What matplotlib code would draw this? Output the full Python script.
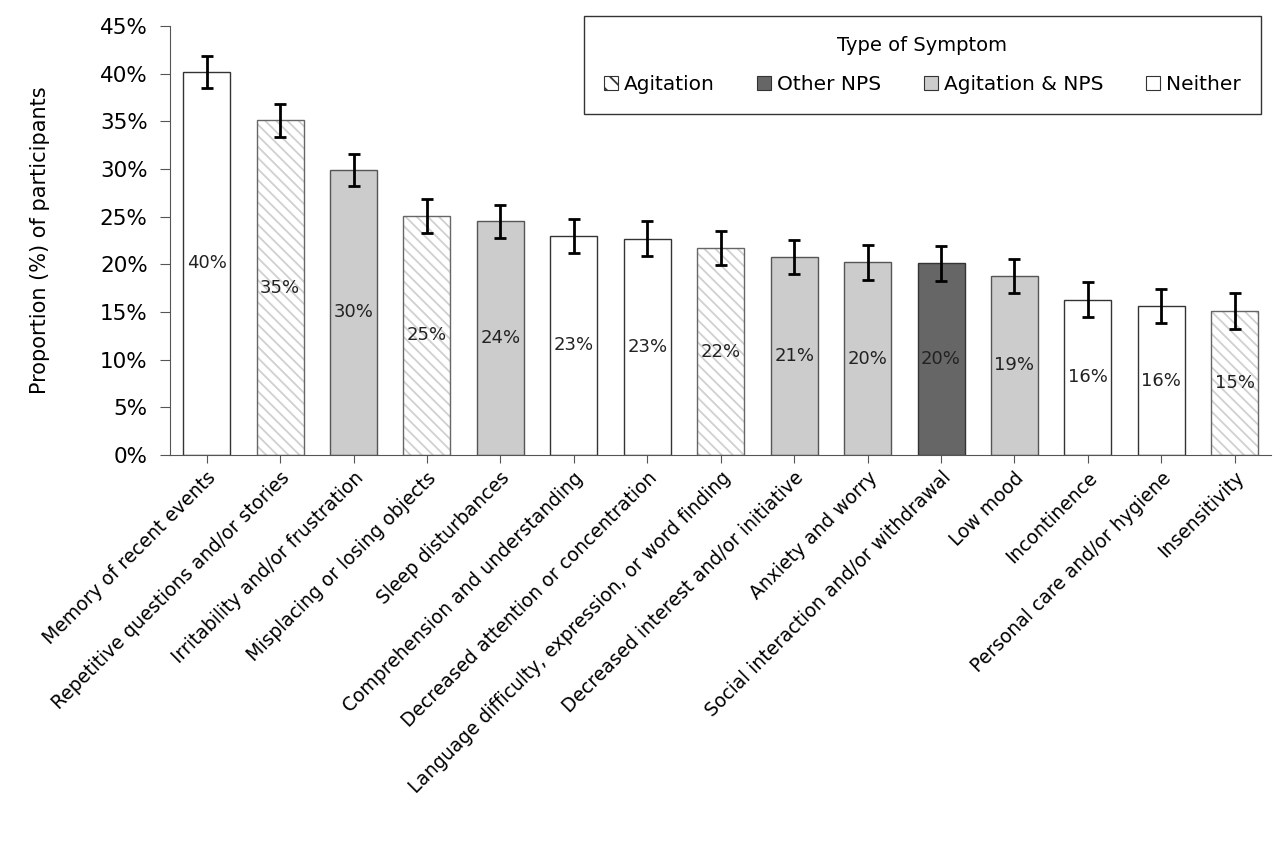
import matplotlib.pyplot as plt
from matplotlib.patches import Patch
from matplotlib.ticker import PercentFormatter

categories = ["Memory of recent events", "Repetitive questions and/or stories",
              "Irritability and/or frustration", "Misplacing or losing objects",
              "Sleep disturbances", "Comprehension and understanding",
              "Decreased attention or concentration",
              "Language difficulty, expression, or word finding",
              "Decreased interest and/or initiative", "Anxiety and worry",
              "Social interaction and/or withdrawal", "Low mood", "Incontinence",
              "Personal care and/or hygiene", "Insensitivity"]
values = [40.2, 35.1, 29.9, 25.1, 24.5, 23.0, 22.7, 21.7, 20.8, 20.2, 20.1, 18.8, 16.3, 15.6, 15.1]
errors = [1.7, 1.7, 1.7, 1.8, 1.7, 1.8, 1.8, 1.8, 1.8, 1.8, 1.8, 1.8, 1.8, 1.8, 1.9]
types = ["Neither", "Agitation", "Agitation & NPS", "Agitation", "Agitation & NPS",
         "Neither", "Neither", "Agitation", "Agitation & NPS", "Agitation & NPS",
         "Other NPS", "Agitation & NPS", "Neither", "Neither", "Agitation"]
legend_order = ["Agitation", "Other NPS", "Agitation & NPS", "Neither"]

fills = {"Agitation": "white", "Other NPS": "#666666",
         "Agitation & NPS": "#cccccc", "Neither": "white"}
hatches = {"Agitation": "\\\\\\", "Other NPS": "", "Agitation & NPS": "", "Neither": ""}
edges = {"Agitation": "#666666", "Other NPS": "#333333",
         "Agitation & NPS": "#555555", "Neither": "#333333"}

plt.rcParams['font.family'] = ['DejaVu Sans']
plt.rcParams['hatch.linewidth'] = 1.3

fig = plt.figure(figsize=(12.74, 8.5), dpi=100)
ax = fig.add_axes([0.1334, 0.4647, 0.8646, 0.5047])

x = list(range(len(categories)))
for i in x:
    t = types[i]
    if hatches[t]:
        # hatch layer in light grey, outline drawn separately
        ax.bar(i, values[i], width=0.64, facecolor=fills[t], hatch=hatches[t],
               edgecolor="#d0d0d0", linewidth=0, zorder=2)
        ax.bar(i, values[i], width=0.64, facecolor="none",
               edgecolor=edges[t], linewidth=1.0, zorder=2)
    else:
        ax.bar(i, values[i], width=0.64, facecolor=fills[t],
               edgecolor=edges[t], linewidth=1.0, zorder=2)
    ax.text(i, values[i] / 2, f"{values[i]:.0f}%", ha="center", va="center",
            fontsize=13, color="#222222", zorder=4)
ax.errorbar(x, values, yerr=errors, fmt="none", ecolor="black",
            elinewidth=2, capsize=4, capthick=2, zorder=3)

ax.set_xlim(-0.5, len(categories) - 0.5)
ax.set_ylim(0, 45)
ax.set_yticks(range(0, 46, 5))
ax.yaxis.set_major_formatter(PercentFormatter(decimals=0))
ax.set_xticks(x)
ax.set_xticklabels(categories, rotation=45, ha="right", rotation_mode="anchor", fontsize=13.5)
ax.tick_params(axis="y", labelsize=15.5, length=7, color="#555555", pad=9)
ax.tick_params(axis="x", length=6, color="#555555")
for s in ["top", "right"]:
    ax.spines[s].set_visible(False)
for s in ["left", "bottom"]:
    ax.spines[s].set_color("#555555")
ax.set_ylabel("Proportion (%) of participants", fontsize=15, labelpad=36)

handles = []
for t in legend_order:
    handles.append(Patch(facecolor=fills[t], hatch=hatches[t][:2],
                         edgecolor="#333333", linewidth=0.8, label=t))
leg = fig.legend(handles=handles, title="Type of Symptom", ncol=4,
                 loc="upper right", bbox_to_anchor=(0.9895, 0.981), fontsize=14.5,
                 title_fontsize=14, frameon=True, fancybox=False, edgecolor="black",
                 handlelength=0.7, handleheight=0.7, handletextpad=0.3,
                 columnspacing=2.1, borderpad=1.0, labelspacing=0.8, borderaxespad=0)
leg.get_frame().set_linewidth(1.0)
leg._legend_box.sep = 14

fig.savefig("out.png", dpi=100)
